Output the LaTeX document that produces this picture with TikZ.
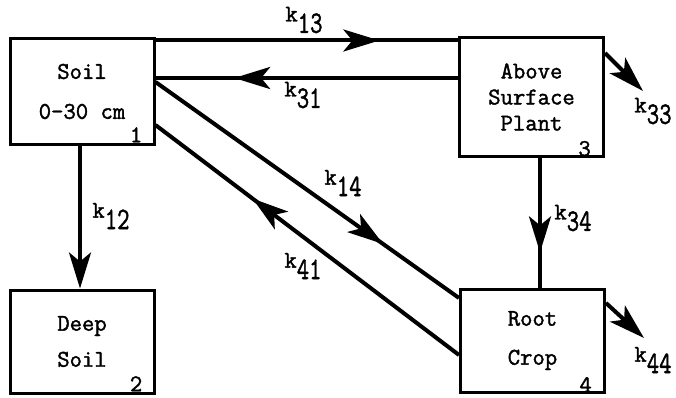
\documentclass[tikz,border=0pt]{standalone}
\usepackage{fontspec}
\newfontfamily\typer{Latin Modern Mono}[FakeBold=1.6]
\usetikzlibrary{arrows.meta,decorations.markings}
\newcommand\rate[1]{k\raisebox{-1.1ex}{\scalebox{1}[1.3]{#1}}}
\tikzset{
  comp/.style={draw, line width=3pt, minimum width=144pt, align=center, inner sep=0pt},
  flow/.style={line width=4pt},
  tip/.style={-{Stealth[length=36pt,width=22pt,inset=9pt]}},
  midtip/.style={postaction={decorate}, decoration={markings,
    mark=at position #1 with {\arrow{Stealth[length=36pt,width=22pt,inset=9pt]}}}},
}
\begin{document}
\begin{tikzpicture}[x=1pt,y=1pt,every node/.style={font=\typer\fontsize{24}{26}\selectfont}]
  \useasboundingbox (0,0) rectangle (676,397);
  % compartments
  \node[comp, minimum height=105pt,
    label={[anchor=south east,inner sep=0pt,xshift=-13pt,yshift=3pt]south east:1}] (b1) at (82,305.5) {Soil\\[14pt]0-30 cm};
  \node[comp, minimum height=103pt,
    label={[anchor=south east,inner sep=0pt,xshift=-13pt,yshift=3pt]south east:2}] (b2) at (82,55.5) {Deep\\[10pt]Soil};
  \node[comp, minimum height=118pt,
    label={[anchor=south east,inner sep=0pt,xshift=-14pt,yshift=1pt]south east:3}] (b3) at (531.5,300) {Above\\Surface\\Plant};
  \node[comp, minimum height=103pt,
    label={[anchor=south east,inner sep=0pt,xshift=-14pt,yshift=1pt]south east:4}] (b4) at (532.5,56.5) {Root\\[13pt]Crop};
  \coordinate (out3) at (643,306);
  \coordinate (out4) at (644,59);
  % transfers
  \draw[flow,midtip=0.74] ([yshift=-3pt]b1.north east) -- ([yshift=-4pt]b3.north west);
  \draw[flow,midtip=0.74] ([yshift=19pt]b3.west) -- ([yshift=19pt]b3.west -| b1.east);
  \draw[flow,midtip=0.75] ([yshift=9.5pt]b1.east) -- ([yshift=42.5pt]b4.west);
  \draw[flow,midtip=0.68] ([yshift=-14.5pt]b4.west) -- ([yshift=-33.5pt]b1.east);
  \draw[flow,tip] ([xshift=-2pt]b1.south) -- ([xshift=-2pt]b2.north);
  \draw[flow,midtip=0.73] ([xshift=8.5pt]b3.south) -- ([xshift=8.5pt]b3.south |- b4.north);
  \draw[flow,tip] ([yshift=44pt]b3.east) -- (out3);
  \draw[flow,tip] ([yshift=37.5pt]b4.east) -- (out4);
  % rate constants
  \node (k13) at (304,377) {\rate{13}};
  \node (k31) at (303,302) {\rate{31}};
  \node (k14) at (343,214) {\rate{14}};
  \node (k41) at (303,131) {\rate{41}};
  \node (k12) at (111,181) {\rate{12}};
  \node (k34) at (573,179) {\rate{34}};
  \node (k33) at (653,286) {\rate{33}};
  \node (k44) at (653,37) {\rate{44}};
\end{tikzpicture}
\end{document}
